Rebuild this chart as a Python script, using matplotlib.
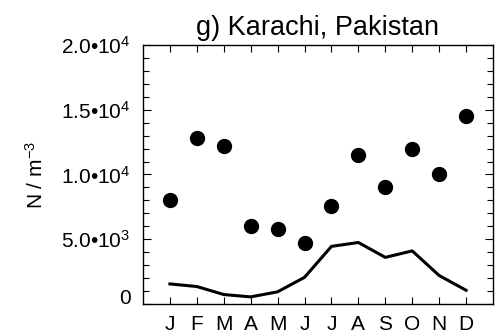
import matplotlib
matplotlib.use("Agg")
import matplotlib.pyplot as plt
from matplotlib.ticker import MultipleLocator
from matplotlib.transforms import ScaledTranslation

plt.rcParams['font.family'] = ['Liberation Sans', 'DejaVu Sans']
plt.rcParams['mathtext.fontset'] = 'custom'
plt.rcParams['mathtext.rm'] = 'Liberation Sans'
plt.rcParams['mathtext.it'] = 'Liberation Sans:italic'
plt.rcParams['mathtext.bf'] = 'Liberation Sans:bold'

months = ["J", "F", "M", "A", "M", "J", "J", "A", "S", "O", "N", "D"]
observed = [8000, 12800, 12200, 6000, 5800, 4700, 7600, 11500, 9000, 12000, 10000, 14500]
modeled = [1550, 1350, 730, 550, 940, 2060, 4450, 4750, 3600, 4100, 2200, 1060]
ytick_vals = [0, 5000, 10000, 15000, 20000]
ytick_labels = ["0", "5.0•10$^{3}$", "1.0•10$^{4}$", "1.5•10$^{4}$", "2.0•10$^{4}$"]
title = "g) Karachi, Pakistan"
ylabel = "N / m$^{-3}$"

fig = plt.figure(figsize=(4.97, 3.36), dpi=100)
ax = fig.add_axes([143/497, 32/336, 350/497, 259/336])
x = list(range(1, len(months) + 1))
ax.plot(x, observed, 'o', color='black', markersize=10, linestyle='none')
ax.plot(x, modeled, '-', color='black', linewidth=2.2)

ax.set_xlim(0, 13)
ax.set_ylim(0, 20000)
ax.set_xticks(x)
ax.set_xticklabels(months, fontsize=15)
ax.set_yticks(ytick_vals)
ax.set_yticklabels(ytick_labels, fontsize=15)
ax.yaxis.set_minor_locator(MultipleLocator(1000))
ax.tick_params(axis='x', which='major', direction='in', top=True, bottom=True,
               length=5, width=0.8, pad=8)
ax.tick_params(axis='y', which='major', direction='in', left=True, right=True,
               length=6, width=0.8, pad=9)
ax.tick_params(axis='y', which='minor', direction='in', left=True, right=True,
               length=4, width=0.8)
for s in ax.spines.values():
    s.set_linewidth(1.0)

# the zero label sits a little above its tick in the reference
zero_lbl = ax.get_yticklabels()[0]
zero_lbl.set_transform(zero_lbl.get_transform() + ScaledTranslation(0, 7/100, fig.dpi_scale_trans))

ax.set_title(title, fontsize=19.5, pad=7)
ax.set_ylabel(ylabel, fontsize=15, labelpad=10)

fig.savefig("out.png", dpi=100)
